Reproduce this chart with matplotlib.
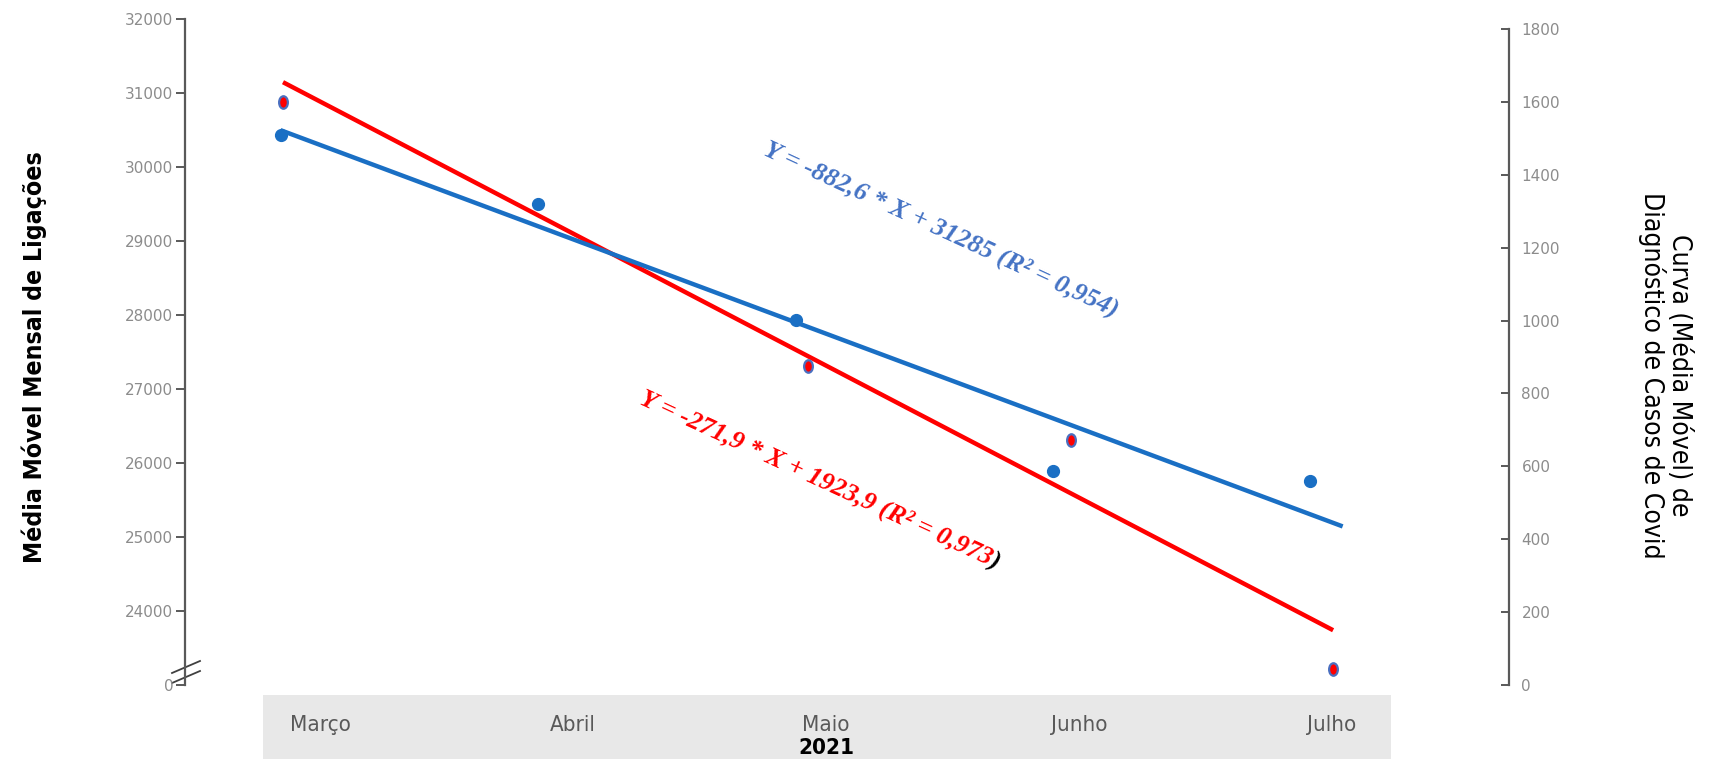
import numpy as np
import matplotlib
matplotlib.use("Agg")
import matplotlib.pyplot as plt
from matplotlib import font_manager as fm
from matplotlib.markers import MarkerStyle
from matplotlib.transforms import Affine2D
from matplotlib.lines import Line2D

# ---------------- data ----------------
months = ["Março", "Abril", "Maio", "Junho", "Julho"]
year_label = "2021"
month_idx = [1, 2, 3, 4, 5]

# monthly moving average of calls (left axis)
ligacoes = [30428, 29493, 27931, 25880, 25745]
# moving average of diagnosed covid cases (right axis)
casos_covid = [1601, 1320, 875, 672, 43]

left_ticks = [0, 24000, 25000, 26000, 27000, 28000, 29000, 30000, 31000, 32000]
right_ticks = [0, 200, 400, 600, 800, 1000, 1200, 1400, 1600, 1800]

eq_ligacoes = "Y = -882,6 * X + 31285 (R² = 0,954)"
eq_covid = "Y = -271,9 * X + 1923,9 (R² = 0,973"
eq_covid_tail = ")"

left_label = "Média Móvel Mensal de Ligações"
right_label = "Curva (Média Móvel) de\nDiagnóstico de Casos de Covid"

# ---------------- styling ----------------
BLUE = "#1a6fc4"
BLUE_TXT = "#4472c4"
RED = "#ff0000"
TICK_GRAY = "#8c8c8c"
AXIS_GRAY = "#595959"
BAND_GRAY = "#e8e8e8"


def pick_family(candidates):
    for fam in candidates:
        try:
            fm.findfont(fm.FontProperties(family=fam), fallback_to_default=False)
            return fam
        except ValueError:
            continue
    return "DejaVu Sans"


NARROW = pick_family(["Liberation Sans Narrow", "DejaVu Sans"])
NARROW_KW = {"family": NARROW}
if NARROW == "DejaVu Sans":
    NARROW_KW["stretch"] = "condensed"

W, H = 1709, 759
fig = plt.figure(figsize=(W / 100, H / 100), dpi=100)


def px_rect(x0, x1, ytop, ybot):
    return [x0 / W, 1 - ybot / H, (x1 - x0) / W, (ybot - ytop) / H]


# broken left axis: 0 sits one step below 24000
def fwd(v):
    v = np.asarray(v, dtype=float)
    return np.where(v < 24000, 23000 + v / 24000 * 1000, v)


def inv(u):
    u = np.asarray(u, dtype=float)
    return np.where(u < 24000, (u - 23000) * 24, u)


# secondary axes (covid cases) drawn first, underneath
ax_r = fig.add_axes(px_rect(185, 1509, 29.4, 684.6))
ax_l = fig.add_axes(px_rect(185, 1509, 18.5, 684.6))
ax_r.set_zorder(1)
ax_l.set_zorder(2)
for a in (ax_l, ax_r):
    a.patch.set_visible(False)

# ---- left axis: calls ----
ax_l.set_yscale("function", functions=(fwd, inv))
ax_l.set_ylim(0, 32000)
ax_l.set_xlim(0.629, 5.771)
ax_l.set_yticks(left_ticks)
ax_l.set_yticklabels([str(t) for t in left_ticks])
ax_l.set_xticks([])
for s in ("top", "right", "bottom"):
    ax_l.spines[s].set_visible(False)
ax_l.spines["left"].set_color(AXIS_GRAY)
ax_l.spines["left"].set_linewidth(1.6)
ax_l.tick_params(axis="y", direction="out", length=6.5, width=1.4, color=AXIS_GRAY,
                 labelcolor=TICK_GRAY, labelsize=11, pad=2)
ax_l.yaxis.set_minor_locator(matplotlib.ticker.NullLocator())

x_l = np.array(month_idx, dtype=float)
k_l, b_l = np.polyfit(x_l, ligacoes, 1)
xt_l = np.array([x_l[0], x_l[-1] + 0.125])
ax_l.plot(xt_l, k_l * xt_l + b_l, color=BLUE, lw=3.2, solid_capstyle="butt", zorder=2)
ax_l.plot(x_l, ligacoes, "o", ms=8.5, color=BLUE, mec=BLUE, zorder=4)

# ---- right axis: covid cases ----
ax_r.set_ylim(0, 1800)
ax_r.set_xlim(0.6267, 5.670)
ax_r.set_yticks(right_ticks)
ax_r.set_xticks([])
ax_r.yaxis.tick_right()
for s in ("top", "left", "bottom"):
    ax_r.spines[s].set_visible(False)
ax_r.spines["right"].set_color(AXIS_GRAY)
ax_r.spines["right"].set_linewidth(1.6)
ax_r.tick_params(axis="y", direction="in", length=6, width=1.4, color=AXIS_GRAY,
                 labelcolor=TICK_GRAY, labelsize=11, pad=9)

x_r = np.array(month_idx, dtype=float)
k_r, b_r = np.polyfit(x_r, casos_covid, 1)
xt_r = np.array([x_r[0], x_r[-1]])
ax_r.plot(xt_r, k_r * xt_r + b_r, color=RED, lw=3.2, solid_capstyle="butt", zorder=2)
oval = MarkerStyle("o", transform=Affine2D().scale(0.7, 1.0))
# the April marker is covered by the calls marker, so it is left out
ax_r.plot(x_r, casos_covid, linestyle="none", marker=oval, ms=9, mfc=RED,
          mec="#4a6fc0", mew=1.6, markevery=[0, 2, 3, 4], zorder=4)

# ---- axis titles ----
fig.text(34 / W, 1 - 357 / H, left_label, rotation=90, ha="center", va="center",
         fontsize=17.8, fontweight="bold", color="black", **NARROW_KW)
fig.text(1665 / W, 1 - 375 / H, right_label, rotation=270, ha="center", va="center",
         fontsize=19, color="black", linespacing=1.0, multialignment="center",
         **NARROW_KW)

# ---- axis break on the left spine ----
for dy in (0, 10):
    fig.add_artist(Line2D([172 / W, 200 / W], [1 - (673 + dy) / H, 1 - (661 + dy) / H],
                          color="#404040", lw=1.3))

# ---- month band ----
ax_b = fig.add_axes(px_rect(263, 1391, 695, 759))
ax_b.set_facecolor(BAND_GRAY)
ax_b.set_xlim(0.7734, 5.234)
ax_b.set_ylim(0, 1)
ax_b.set_xticks([])
ax_b.set_yticks([])
for s in ax_b.spines.values():
    s.set_visible(False)
for xi, m in zip(month_idx, months):
    ax_b.text(xi, 0.53, m, ha="center", va="center", fontsize=16, color="#595959",
              **NARROW_KW)
ax_b.text(3, 0.17, year_label, ha="center", va="center", fontsize=16,
          fontweight="bold", color="black", **NARROW_KW)

# ---- regression equations ----
eq_font = dict(family="Liberation Serif", weight="bold", style="italic", size=19)
rot = -24.8
ax_l.text((762 - 185) / 1324, (684.6 - 154) / 666.1, eq_ligacoes, transform=ax_l.transAxes,
          rotation=rot, rotation_mode="anchor", ha="left", va="baseline",
          color=BLUE_TXT, fontproperties=fm.FontProperties(**eq_font), zorder=5)

red_pos = ((638 - 185) / 1324, (684.6 - 403) / 666.1)
ax_l.text(*red_pos, eq_covid, transform=ax_l.transAxes,
          rotation=rot, rotation_mode="anchor", ha="left", va="baseline",
          color=RED, fontproperties=fm.FontProperties(**eq_font), zorder=5)

fig.canvas.draw()
renderer = fig.canvas.get_renderer()
probe = fig.text(0, 0, eq_covid, fontproperties=fm.FontProperties(**eq_font))
w = probe.get_window_extent(renderer).width
probe.remove()
ang = np.deg2rad(rot)
ax_l.annotate(eq_covid_tail, xy=red_pos, xycoords="axes fraction",
              xytext=(w * np.cos(ang), w * np.sin(ang)), textcoords="offset pixels",
              rotation=rot, rotation_mode="anchor", ha="left", va="baseline",
              color="black", fontproperties=fm.FontProperties(**eq_font), zorder=5)

fig.savefig("out.png", dpi=100)
